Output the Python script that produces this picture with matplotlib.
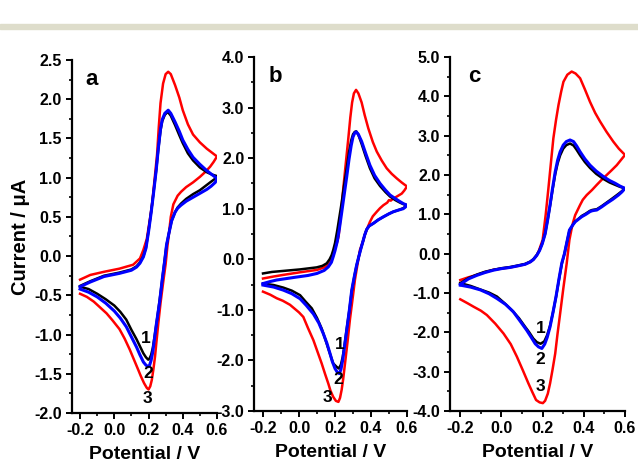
import matplotlib
matplotlib.use("Agg")
import matplotlib.pyplot as plt
from matplotlib.ticker import MultipleLocator, FormatStrFormatter
from matplotlib.patches import Rectangle

plt.rcParams["font.family"] = ["Liberation Sans", "DejaVu Sans"]
plt.rcParams["font.weight"] = "bold"
plt.rcParams["axes.unicode_minus"] = False

# ---- panel a : potential (V) and current (uA), forward then reverse scan
a1_E = [-0.20, -0.14, -0.06, 0.03, 0.10, 0.13, 0.15, 0.17, 0.185, 0.20, 0.215, 0.228, 0.245, 0.257, 0.27, 0.28, 0.295, 0.312,
        0.33, 0.355, 0.38, 0.40, 0.43, 0.46, 0.50, 0.54, 0.57, 0.60,
        0.585, 0.56, 0.53, 0.50, 0.46, 0.42, 0.39, 0.37, 0.355, 0.335, 0.32, 0.305, 0.294, 0.28, 0.265, 0.247, 0.235,
        0.225, 0.215, 0.205, 0.198, 0.185, 0.17, 0.15, 0.13, 0.10, 0.07, 0.035, 0.0, -0.05, -0.10, -0.15, -0.20]
a1_I = [-0.38, -0.32, -0.25, -0.21, -0.17, -0.13, -0.08, 0.0, 0.11, 0.32, 0.56, 0.79, 1.10, 1.36, 1.60, 1.72, 1.80, 1.84,
        1.79, 1.67, 1.54, 1.44, 1.31, 1.22, 1.13, 1.07, 1.04, 1.02,
        0.98, 0.94, 0.89, 0.84, 0.79, 0.73, 0.67, 0.62, 0.56, 0.45, 0.30, 0.14, -0.05, -0.30, -0.56, -0.85, -1.03,
        -1.17, -1.26, -1.31, -1.32, -1.29, -1.24, -1.15, -1.06, -0.94, -0.81, -0.71, -0.63, -0.55, -0.48, -0.42, -0.39]

a2_E = [-0.20, -0.14, -0.06, 0.03, 0.10, 0.13, 0.15, 0.17, 0.185, 0.20, 0.215, 0.228, 0.245, 0.257, 0.27, 0.28, 0.295, 0.315,
        0.33, 0.355, 0.38, 0.40, 0.43, 0.46, 0.50, 0.54, 0.57, 0.60,
        0.59, 0.565, 0.54, 0.50, 0.46, 0.42, 0.39, 0.37, 0.355, 0.335, 0.32, 0.305, 0.295, 0.28, 0.265, 0.245, 0.235,
        0.225, 0.215, 0.205, 0.198, 0.185, 0.17, 0.15, 0.13, 0.10, 0.07, 0.035, 0.0, -0.05, -0.10, -0.15, -0.20]
a2_I = [-0.39, -0.33, -0.26, -0.22, -0.18, -0.14, -0.09, -0.01, 0.10, 0.31, 0.55, 0.78, 1.10, 1.37, 1.62, 1.74, 1.82, 1.86,
        1.82, 1.71, 1.59, 1.48, 1.36, 1.26, 1.17, 1.09, 1.04, 0.99,
        0.94, 0.89, 0.85, 0.80, 0.75, 0.70, 0.65, 0.61, 0.56, 0.45, 0.30, 0.14, -0.05, -0.30, -0.58, -0.88, -1.05,
        -1.22, -1.33, -1.40, -1.41, -1.39, -1.35, -1.26, -1.16, -1.03, -0.90, -0.79, -0.70, -0.60, -0.52, -0.46, -0.42]

a3_E = [-0.20, -0.14, -0.06, 0.03, 0.11, 0.15, 0.17, 0.19, 0.21, 0.22, 0.235, 0.25, 0.26, 0.27, 0.285, 0.30, 0.315,
        0.33, 0.355, 0.38, 0.40, 0.43, 0.46, 0.50, 0.54, 0.57, 0.60,
        0.58, 0.56, 0.53, 0.50, 0.46, 0.42, 0.39, 0.37, 0.345, 0.33, 0.32, 0.31, 0.30, 0.287, 0.27, 0.257, 0.245,
        0.238, 0.228, 0.219, 0.21, 0.20, 0.19, 0.174, 0.155, 0.14, 0.115, 0.09, 0.06, 0.03, -0.01, -0.045, -0.085,
        -0.12, -0.16, -0.20]
a3_I = [-0.30, -0.24, -0.20, -0.16, -0.11, -0.03, 0.08, 0.22, 0.50, 0.65, 0.97, 1.30, 1.65, 1.95, 2.20, 2.32, 2.35,
        2.32, 2.18, 2.02, 1.86, 1.68, 1.55, 1.45, 1.37, 1.32, 1.27,
        1.20, 1.14, 1.07, 1.01, 0.94, 0.88, 0.82, 0.77, 0.66, 0.50, 0.30, 0.12, -0.10, -0.31, -0.60, -0.86, -1.12,
        -1.28, -1.45, -1.58, -1.66, -1.70, -1.68, -1.62, -1.53, -1.45, -1.32, -1.19, -1.05, -0.93, -0.82, -0.73, -0.65,
        -0.58, -0.52, -0.48]

# ---- panel b
b1_E = [-0.20, -0.15, -0.087, 0.006, 0.098, 0.13, 0.154, 0.17, 0.181, 0.19, 0.20, 0.213, 0.225, 0.237, 0.25, 0.265, 0.278,
        0.29, 0.30, 0.31, 0.318, 0.33, 0.348, 0.37, 0.394, 0.42, 0.45, 0.48, 0.506, 0.535, 0.561, 0.58, 0.60,
        0.59, 0.579, 0.55, 0.524, 0.50, 0.469, 0.44, 0.413, 0.39, 0.376, 0.365, 0.355, 0.343, 0.332, 0.32, 0.308,
        0.293, 0.28, 0.265, 0.253, 0.243, 0.233, 0.222, 0.21, 0.19, 0.175, 0.163, 0.145, 0.126, 0.10, 0.071, 0.035,
        0.006, -0.04, -0.087, -0.14, -0.20]
b1_I = [-0.28, -0.25, -0.23, -0.20, -0.16, -0.13, -0.08, 0.0, 0.08, 0.18, 0.32, 0.58, 0.85, 1.12, 1.45, 1.80, 2.12,
        2.35, 2.47, 2.52, 2.53, 2.46, 2.28, 2.04, 1.80, 1.60, 1.45, 1.33, 1.24, 1.17, 1.12, 1.09, 1.07,
        1.04, 1.01, 0.97, 0.94, 0.90, 0.84, 0.78, 0.71, 0.66, 0.59, 0.48, 0.35, 0.20, 0.05, -0.12, -0.33,
        -0.63, -1.00, -1.38, -1.70, -1.93, -2.08, -2.16, -2.13, -2.06, -1.90, -1.77, -1.57, -1.37, -1.16, -0.97, -0.83,
        -0.71, -0.62, -0.56, -0.51, -0.48]

b2_E = [-0.20, -0.16, -0.124, -0.03, 0.05, 0.10, 0.14, 0.163, 0.18, 0.19, 0.20, 0.213, 0.225, 0.237, 0.25, 0.265, 0.278,
        0.29, 0.30, 0.31, 0.318, 0.33, 0.348, 0.37, 0.394, 0.42, 0.45, 0.48, 0.506, 0.535, 0.561, 0.58, 0.60,
        0.59, 0.579, 0.55, 0.524, 0.50, 0.469, 0.44, 0.413, 0.39, 0.376, 0.365, 0.355, 0.343, 0.332, 0.32, 0.308,
        0.293, 0.28, 0.265, 0.253, 0.243, 0.233, 0.224, 0.212, 0.20, 0.185, 0.172, 0.155, 0.135, 0.11, 0.08, 0.04,
        0.006, -0.04, -0.087, -0.14, -0.20]
b2_I = [-0.48, -0.44, -0.41, -0.36, -0.32, -0.28, -0.22, -0.15, -0.06, 0.05, 0.17, 0.36, 0.62, 0.92, 1.25, 1.63, 1.98,
        2.25, 2.42, 2.50, 2.52, 2.47, 2.33, 2.10, 1.86, 1.66, 1.50, 1.37, 1.27, 1.20, 1.14, 1.10, 1.07,
        1.03, 1.00, 0.97, 0.94, 0.90, 0.84, 0.78, 0.71, 0.66, 0.59, 0.48, 0.35, 0.20, 0.05, -0.12, -0.33,
        -0.61, -1.00, -1.40, -1.72, -1.99, -2.18, -2.26, -2.23, -2.16, -2.02, -1.86, -1.66, -1.47, -1.26, -1.08, -0.91,
        -0.78, -0.68, -0.61, -0.55, -0.51]

b3_E = [-0.20, -0.14, -0.09, 0.0, 0.10, 0.14, 0.165, 0.18, 0.19, 0.20, 0.21, 0.22, 0.233, 0.246, 0.26, 0.274, 0.285,
        0.295, 0.305, 0.317, 0.33, 0.348, 0.365, 0.385, 0.41, 0.432, 0.46, 0.487, 0.515, 0.543, 0.57, 0.60,
        0.585, 0.571, 0.543, 0.52, 0.51, 0.50, 0.49, 0.469, 0.45, 0.432, 0.41, 0.394, 0.38, 0.367, 0.355, 0.339,
        0.325, 0.311, 0.297, 0.283, 0.27, 0.256, 0.245, 0.237, 0.228, 0.219, 0.205, 0.19, 0.175, 0.163, 0.145,
        0.126, 0.10, 0.08, 0.05, 0.024, 0.0, -0.05, -0.09, -0.124, -0.16, -0.20]
b3_I = [-0.38, -0.34, -0.31, -0.26, -0.21, -0.16, -0.10, -0.02, 0.08, 0.22, 0.32, 0.45, 0.90, 1.40, 1.90, 2.39, 2.80,
        3.10, 3.28, 3.35, 3.28, 3.10, 2.85, 2.59, 2.32, 2.13, 1.95, 1.80, 1.69, 1.60, 1.52, 1.44,
        1.36, 1.30, 1.24, 1.19, 1.16, 1.17, 1.12, 1.07, 1.01, 0.94, 0.85, 0.74, 0.62, 0.50, 0.35, 0.19,
        -0.10, -0.40, -0.80, -1.19, -1.62, -2.05, -2.38, -2.58, -2.74, -2.82, -2.80, -2.72, -2.60, -2.46, -2.27,
        -2.06, -1.80, -1.60, -1.36, -1.14, -1.05, -0.90, -0.82, -0.77, -0.70, -0.64]

# ---- panel c
c1_E = [-0.20, -0.16, -0.119, -0.08, -0.039, 0.0, 0.042, 0.08, 0.115, 0.14, 0.155, 0.172, 0.185, 0.198, 0.212, 0.224,
        0.236, 0.248, 0.261, 0.273, 0.285, 0.30, 0.315, 0.333, 0.35, 0.365, 0.382, 0.405, 0.43, 0.46, 0.495, 0.525,
        0.552, 0.575, 0.60,
        0.585, 0.568, 0.54, 0.511, 0.487, 0.463, 0.45, 0.44, 0.43, 0.41, 0.39, 0.375, 0.358, 0.345, 0.33, 0.318,
        0.306, 0.293, 0.28, 0.265, 0.25, 0.236, 0.222, 0.208, 0.19, 0.172, 0.155, 0.135, 0.115, 0.085, 0.051, 0.015,
        -0.022, -0.06, -0.103, -0.15, -0.20]
c1_I = [-0.75, -0.62, -0.53, -0.46, -0.41, -0.37, -0.34, -0.30, -0.26, -0.20, -0.14, -0.03, 0.09, 0.26, 0.51, 0.85,
        1.22, 1.62, 2.02, 2.30, 2.50, 2.67, 2.76, 2.80, 2.75, 2.64, 2.50, 2.33, 2.18, 2.03, 1.90, 1.81,
        1.75, 1.70, 1.66,
        1.59, 1.52, 1.41, 1.30, 1.21, 1.13, 1.12, 1.11, 1.09, 1.02, 0.96, 0.89, 0.82, 0.72, 0.58, 0.30,
        0.0, -0.26, -0.64, -1.10, -1.50, -1.83, -2.07, -2.23, -2.29, -2.25, -2.16, -2.00, -1.86, -1.64, -1.44, -1.26,
        -1.09, -0.99, -0.91, -0.82, -0.75]

c2_E = [-0.20, -0.16, -0.119, -0.08, -0.039, 0.0, 0.042, 0.08, 0.115, 0.14, 0.155, 0.172, 0.185, 0.198, 0.212, 0.224,
        0.236, 0.248, 0.261, 0.273, 0.285, 0.30, 0.315, 0.333, 0.35, 0.365, 0.382, 0.405, 0.43, 0.46, 0.495, 0.525,
        0.552, 0.575, 0.60,
        0.585, 0.568, 0.54, 0.511, 0.487, 0.463, 0.45, 0.44, 0.43, 0.41, 0.39, 0.375, 0.358, 0.345, 0.33, 0.318,
        0.306, 0.293, 0.28, 0.265, 0.25, 0.236, 0.222, 0.21, 0.196, 0.18, 0.164, 0.145, 0.123, 0.09, 0.058, 0.02,
        -0.022, -0.06, -0.103, -0.15, -0.20]
c2_I = [-0.78, -0.64, -0.55, -0.48, -0.42, -0.38, -0.35, -0.31, -0.27, -0.21, -0.15, -0.04, 0.08, 0.25, 0.50, 0.85,
        1.24, 1.66, 2.08, 2.38, 2.59, 2.76, 2.85, 2.89, 2.85, 2.74, 2.59, 2.41, 2.25, 2.10, 1.96, 1.86,
        1.79, 1.72, 1.66,
        1.57, 1.49, 1.38, 1.28, 1.19, 1.11, 1.10, 1.09, 1.07, 1.00, 0.94, 0.88, 0.81, 0.72, 0.60, 0.30,
        0.0, -0.24, -0.62, -1.09, -1.50, -1.86, -2.13, -2.30, -2.41, -2.37, -2.29, -2.13, -1.95, -1.71, -1.48, -1.29,
        -1.14, -1.02, -0.92, -0.85, -0.80]

c3_E = [-0.20, -0.16, -0.119, -0.08, -0.039, 0.0, 0.042, 0.08, 0.115, 0.14, 0.155, 0.17, 0.18, 0.19, 0.20, 0.215,
        0.228, 0.24, 0.252, 0.265, 0.277, 0.29, 0.301, 0.32, 0.341, 0.36, 0.382, 0.405, 0.43, 0.455, 0.479, 0.51,
        0.543, 0.57, 0.60,
        0.58, 0.56, 0.535, 0.511, 0.487, 0.463, 0.44, 0.414, 0.395, 0.382, 0.37, 0.358, 0.348, 0.341, 0.33, 0.317,
        0.30, 0.285, 0.272, 0.261, 0.248, 0.236, 0.225, 0.212, 0.201, 0.185, 0.168, 0.15, 0.131, 0.105, 0.075, 0.045,
        0.01, -0.03, -0.071, -0.10, -0.135, -0.165, -0.20]
c3_I = [-0.67, -0.60, -0.54, -0.47, -0.41, -0.38, -0.35, -0.31, -0.27, -0.21, -0.15, -0.05, 0.05, 0.20, 0.35, 1.00,
        1.66, 2.30, 2.93, 3.40, 3.78, 4.12, 4.37, 4.55, 4.63, 4.58, 4.46, 4.18, 3.86, 3.58, 3.36, 3.10,
        2.85, 2.67, 2.51,
        2.38, 2.25, 2.12, 2.00, 1.88, 1.75, 1.62, 1.49, 1.37, 1.24, 1.11, 0.98, 0.80, 0.64, 0.35, -0.24,
        -0.90, -1.52, -2.05, -2.54, -2.95, -3.30, -3.56, -3.74, -3.80, -3.78, -3.72, -3.52, -3.30, -2.98, -2.62, -2.30,
        -2.03, -1.78, -1.56, -1.45, -1.35, -1.26, -1.16]

panel_names = ["a", "b", "c"]
y_limits = [(-2.0, 2.5), (-3.0, 4.0), (-4.0, 5.0)]
y_major = [0.5, 1.0, 1.0]
curve_labels = ["1", "2", "3"]
label_pos = [[(0.186, -1.05), (0.199, -1.50), (0.195, -1.82)],
             [(0.224, -1.69), (0.218, -2.38), (0.157, -2.74)],
             [(0.191, -1.90), (0.188, -2.70), (0.191, -3.38)]]
curves = [[(a1_E, a1_I), (a2_E, a2_I), (a3_E, a3_I)],
          [(b1_E, b1_I), (b2_E, b2_I), (b3_E, b3_I)],
          [(c1_E, c1_I), (c2_E, c2_I), (c3_E, c3_I)]]

W, H = 638, 465
fig = plt.figure(figsize=(W / 100, H / 100), dpi=100)
fig.patches.append(Rectangle((0, 1 - 29 / H), 1, 5 / H, transform=fig.transFigure,
                             color="#deddcb", zorder=0))

# axes boxes in pixels: left, right, top, bottom
boxes = [(71.5, 217, 60, 413), (254, 407, 57, 411), (450, 625, 57, 411)]
colors = ["black", "blue", "red"]
widths = [1.8, 2.2, 1.8]
draw_order = [2, 0, 1]

for k, ax_box in enumerate(boxes):
    l, r, t, b = ax_box
    ax = fig.add_axes([l / W, 1 - b / H, (r - l) / W, (b - t) / H])
    for j in draw_order:
        E, I = curves[k][j]
        ax.plot(E, I, color=colors[j], lw=widths[j], solid_joinstyle="round")
    for j, (x, y) in enumerate(label_pos[k]):
        ax.text(x, y, curve_labels[j], fontsize=12.5, fontweight="bold", ha="center", va="center")
    ax.text(0.14, 0.945, panel_names[k], transform=ax.transAxes, fontsize=16,
            fontweight="bold", ha="center", va="center")

    ax.set_xlim(-0.25, 0.6)
    ax.set_ylim(*y_limits[k])
    ax.xaxis.set_major_locator(MultipleLocator(0.2))
    ax.xaxis.set_minor_locator(MultipleLocator(0.1))
    ax.yaxis.set_major_locator(MultipleLocator(y_major[k]))
    ax.yaxis.set_minor_locator(MultipleLocator(y_major[k] / 2))
    ax.xaxis.set_major_formatter(FormatStrFormatter("%.1f"))
    ax.yaxis.set_major_formatter(FormatStrFormatter("%.1f"))
    ax.spines["top"].set_visible(False)
    ax.spines["right"].set_visible(False)
    ax.spines["left"].set_linewidth(1.6)
    ax.spines["bottom"].set_linewidth(1.6)
    ax.tick_params(which="major", direction="out", length=4.5, width=1.4, labelsize=11.5, pad=2.5)
    ax.tick_params(which="minor", direction="out", length=2.5, width=1.2)
    for lab in ax.get_xticklabels() + ax.get_yticklabels():
        lab.set_fontweight("bold")
    ax.set_xlabel("Potential / V", fontsize=14, fontweight="bold", labelpad=6)
    if k == 0:
        ax.set_ylabel("Current / \u03bcA", fontsize=14.5, fontweight="bold", labelpad=3)

fig.savefig("out.png", dpi=100)
